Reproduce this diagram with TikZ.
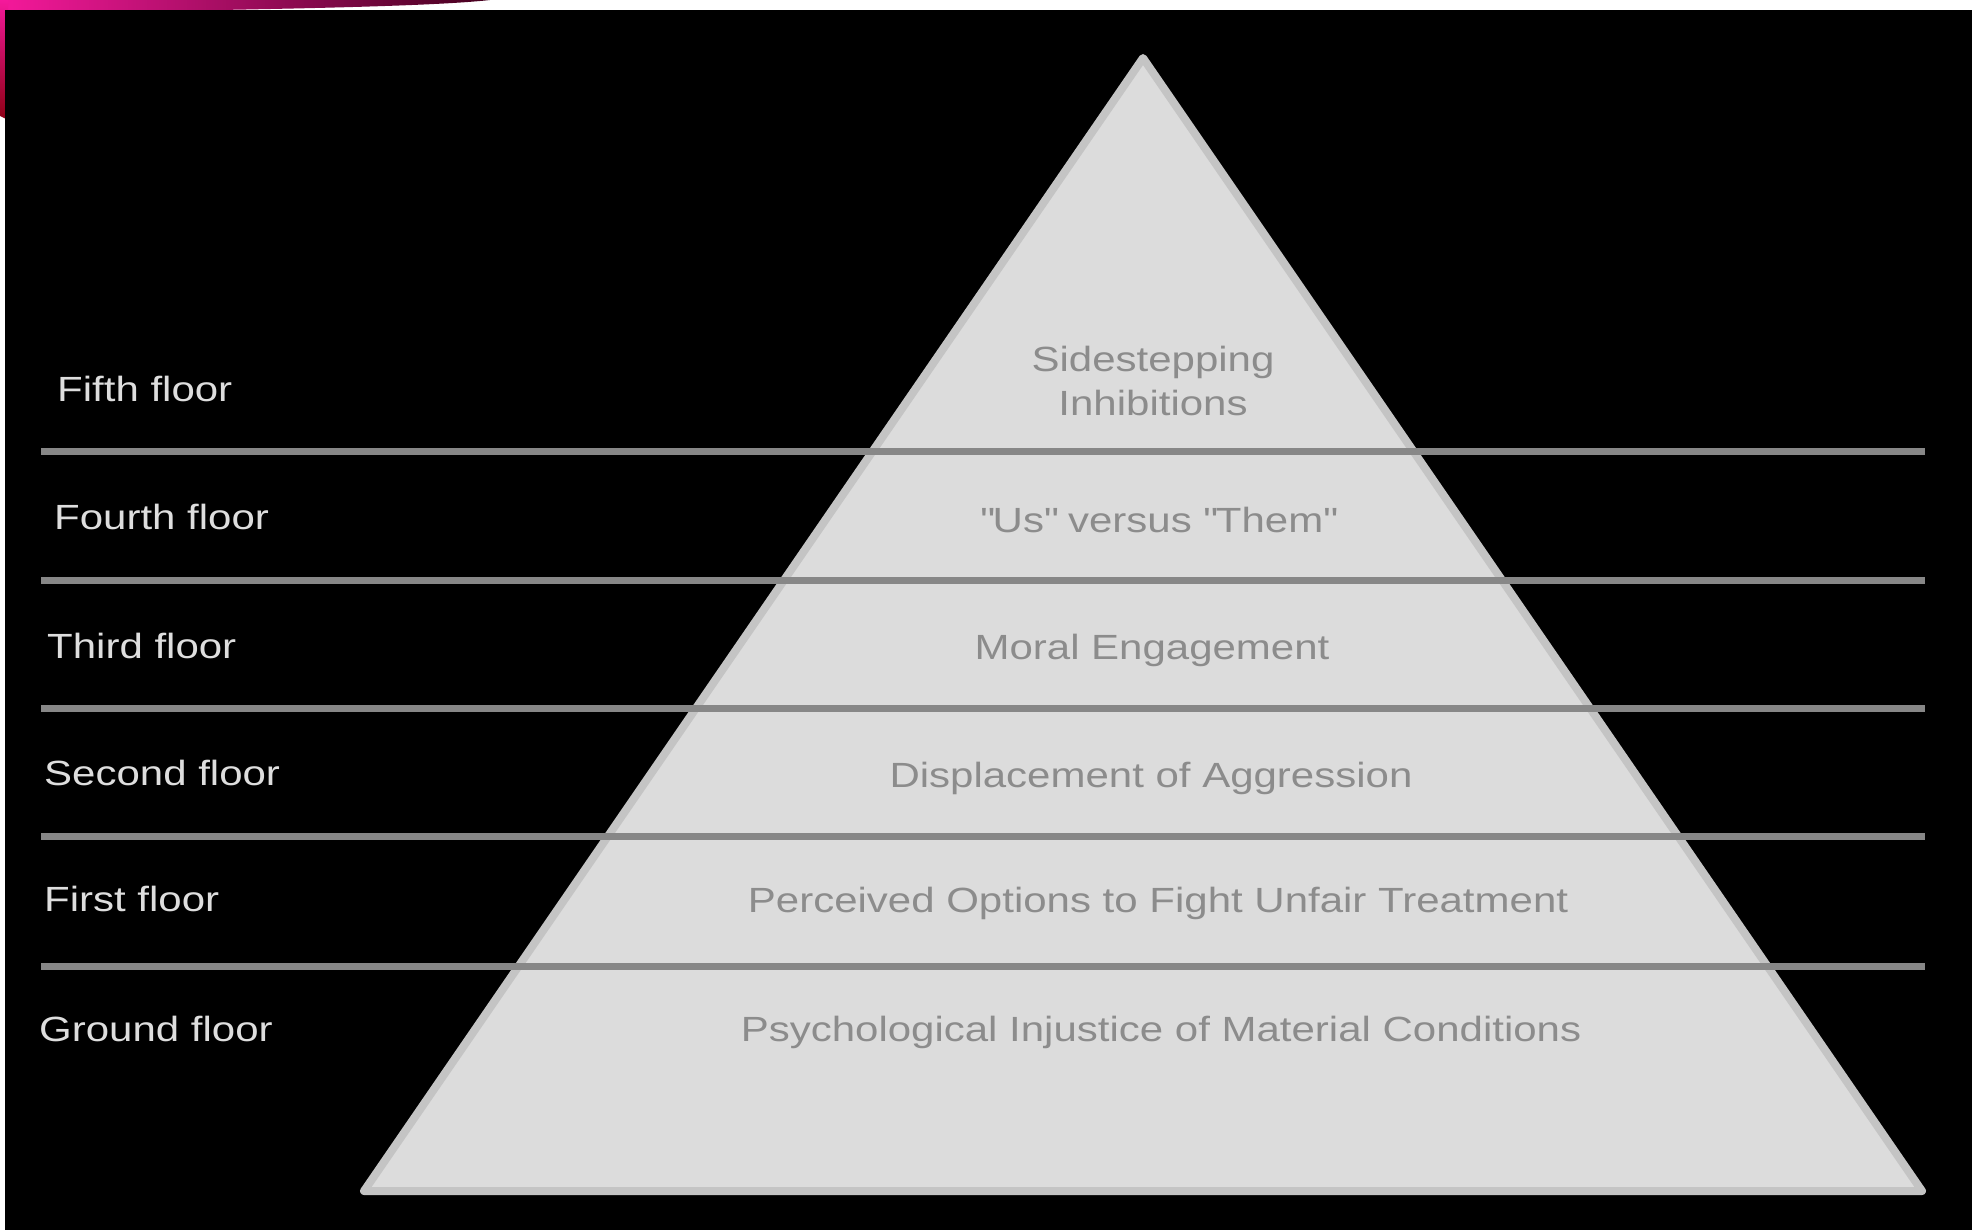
\documentclass[tikz,border=0pt]{standalone}
\usepackage{fontspec}
\setmainfont[FakeStretch=1.2]{Liberation Sans}
\definecolor{pinkA}{RGB}{245,25,155}
\definecolor{pinkB}{RGB}{200,10,120}
\definecolor{pinkD}{RGB}{70,0,30}
\definecolor{redD}{RGB}{140,0,20}
\definecolor{pyrfill}{RGB}{220,220,220}
\definecolor{pyredge}{RGB}{196,196,196}
\definecolor{floorline}{RGB}{135,135,135}
\definecolor{labelcol}{RGB}{222,222,222}
\definecolor{tiercol}{RGB}{140,140,140}
\tikzset{
  floorlabel/.style={anchor=west, text=labelcol, inner sep=0pt, font=\fontsize{35}{42}\selectfont},
  tierlabel/.style={anchor=center, text=tiercol, inner sep=0pt, align=center, font=\fontsize{35}{44}\selectfont},
  floorsep/.style={draw=floorline, line width=7pt},
}
\begin{document}
\begin{tikzpicture}[x=1pt,y=-1pt]
\useasboundingbox (0,0) rectangle (1972,1230);
\fill[white] (0,0) rectangle (1972,1230);
% pink swoosh
\shade[left color=pinkA, right color=pinkD] (0,0) -- (490,0) .. controls (420,8) and (200,10) .. (0,14) -- cycle;
\shade[top color=pinkA, bottom color=redD] (0,0) -- (8,0) -- (8,120) -- (0,116) -- cycle;
\fill[black] (5,10) rectangle (1972,1230);
% pyramid
\filldraw[fill=pyrfill, draw=pyredge, line width=8pt, line join=round]
  (1143,58) coordinate (apex) -- (1922,1191) coordinate (br) -- (364,1191) coordinate (bl) -- cycle;
% floor separators
\foreach \y/\n in {451/a,580/b,708/c,836/d,966/e}{
  \coordinate (l\n) at (41,\y);
  \coordinate (r\n) at (1925,\y);
  \draw[floorsep] (l\n) -- (r\n);
}
% floor labels
\node[floorlabel] (f5) at (57,389) {Fifth floor};
\node[floorlabel] (f4) at (54,517) {Fourth floor};
\node[floorlabel] (f3) at (47,646) {Third floor};
\node[floorlabel] (f2) at (44,773) {Second floor};
\node[floorlabel] (f1) at (44,899) {First floor};
\node[floorlabel] (f0) at (39,1029) {Ground floor};
% tier labels
\node[tierlabel] (t5) at (1153,381) {Sidestepping\\Inhibitions};
\node[tierlabel] (t4) at (1158,520) {\textquotedbl Us\textquotedbl{} versus \textquotedbl Them\textquotedbl};
\node[tierlabel] (t3) at (1152,650) {Moral Engagement};
\node[tierlabel] (t2) at (1151,778) {Displacement of Aggression};
\node[tierlabel] (t1) at (1158,903) {Perceived Options to Fight Unfair Treatment};
\node[tierlabel] (t0) at (1161,1032) {Psychological Injustice of Material Conditions};
\end{tikzpicture}
\end{document}
